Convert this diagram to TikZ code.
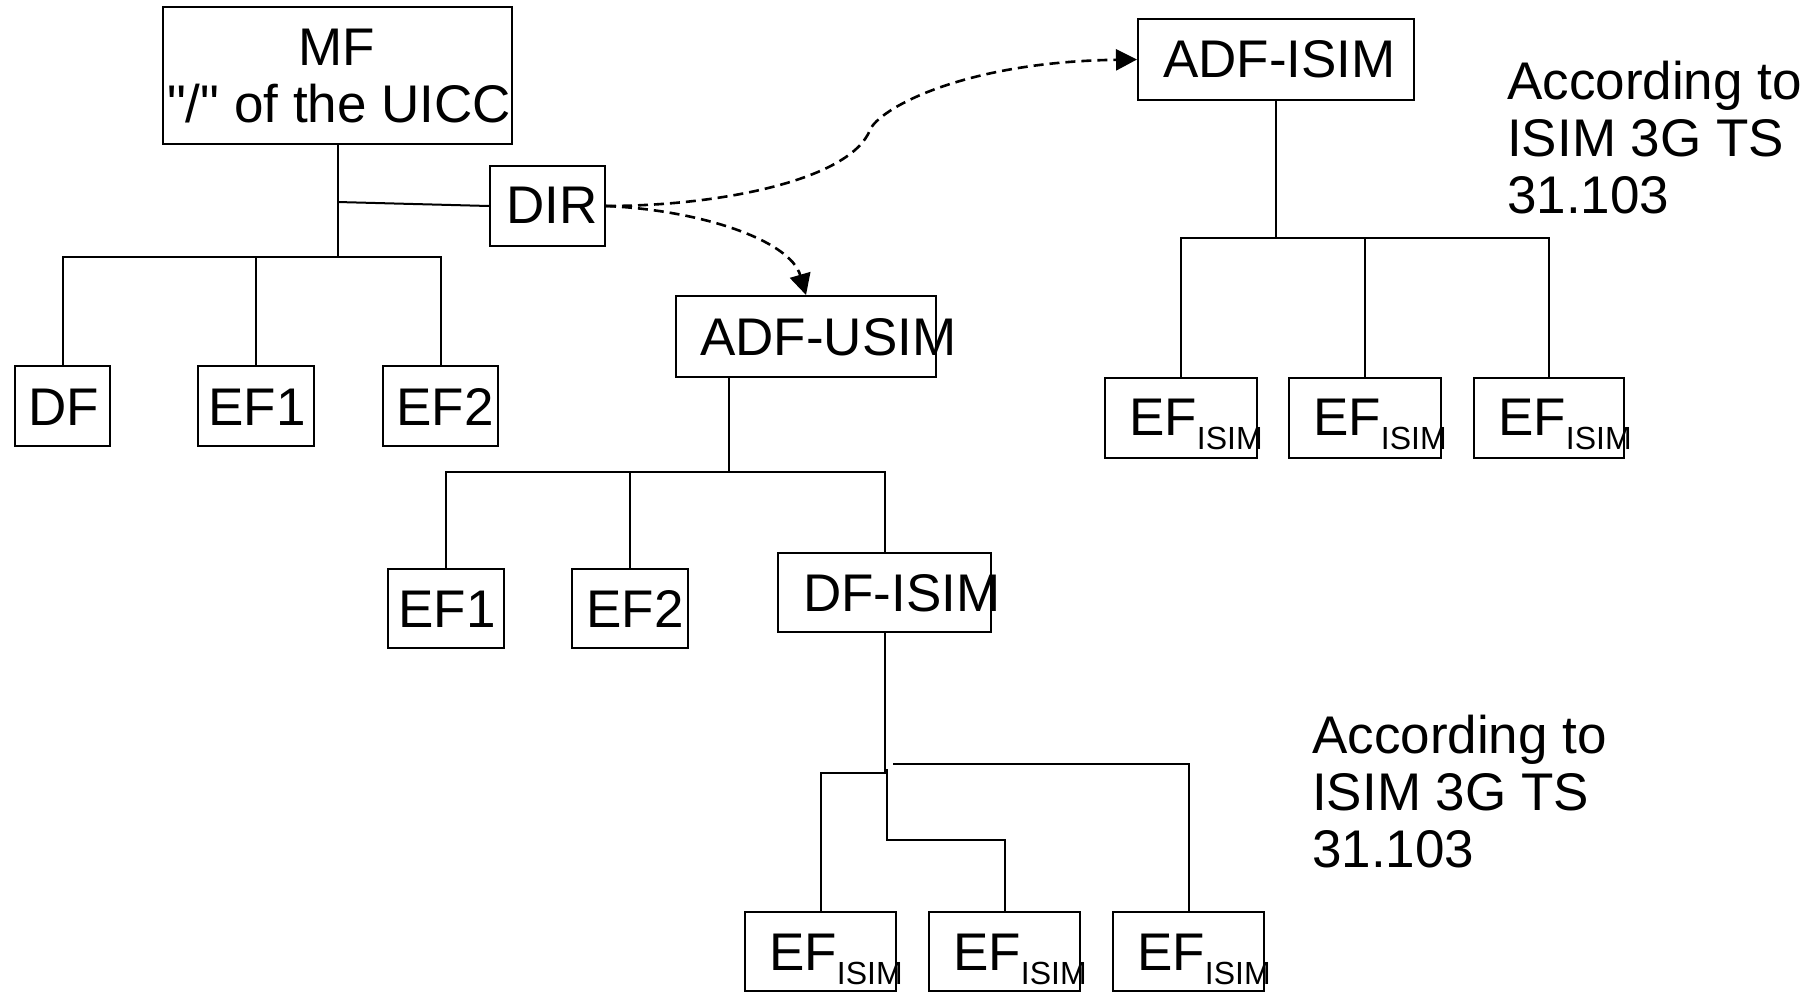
\documentclass[tikz,border=0pt]{standalone}
\usepackage{fontspec}
\setmainfont{Liberation Sans}[Ligatures=TeXOff]
\usetikzlibrary{arrows.meta}
\begin{document}
\begin{tikzpicture}[x=1pt,y=-1pt,
  box/.style={draw, line width=2pt, inner sep=0pt},
  lbl/.style={inner sep=0pt, font=\fontsize{53}{57}\selectfont},
  conn/.style={line width=2pt},
  darr/.style={line width=2.6pt, dash pattern=on 10pt off 6pt, -{Triangle[length=21pt,width=21pt]}}]
\useasboundingbox (0,0) rectangle (1818,993);
\newcommand{\sub}[1]{\raisebox{-14pt}{\fontsize{32}{32}\selectfont #1}}
% boxes
\node[box, minimum width=349pt, minimum height=137pt] (MF)   at (337.5,75.5) {};
\node[box, minimum width=115pt, minimum height=80pt]  (DIR)  at (547.5,206) {};
\node[box, minimum width=95pt,  minimum height=80pt]  (DF)   at (62.5,406) {};
\node[box, minimum width=116pt, minimum height=80pt]  (EFa1) at (256,406) {};
\node[box, minimum width=115pt, minimum height=80pt]  (EFa2) at (440.5,406) {};
\node[box, minimum width=260pt, minimum height=81pt]  (ADFU) at (806,336.5) {};
\node[box, minimum width=116pt, minimum height=79pt]  (EFb1) at (446,608.5) {};
\node[box, minimum width=116pt, minimum height=79pt]  (EFb2) at (630,608.5) {};
\node[box, minimum width=213pt, minimum height=79pt]  (DFI)  at (884.5,592.5) {};
\node[box, minimum width=151pt, minimum height=79pt]  (EFc1) at (820.5,951.5) {};
\node[box, minimum width=151pt, minimum height=79pt]  (EFc2) at (1004.5,951.5) {};
\node[box, minimum width=151pt, minimum height=79pt]  (EFc3) at (1188.5,951.5) {};
\node[box, minimum width=276pt, minimum height=81pt]  (ADFI) at (1276,59.5) {};
\node[box, minimum width=152pt, minimum height=80pt]  (EFd1) at (1181,418) {};
\node[box, minimum width=152pt, minimum height=80pt]  (EFd2) at (1365,418) {};
\node[box, minimum width=150pt, minimum height=80pt]  (EFd3) at (1549,418) {};
% texts
\node[lbl, anchor=base] (tMF1) at (337,65) {MF};
\node[lbl, anchor=base] (tMF2) at (339,122) {"/" of the UICC};
\node[lbl, anchor=base east] (tDIR) at (598,223) {DIR};
\node[lbl, anchor=base east] (tDF) at (99,425) {DF};
\node[lbl, anchor=base east] (tEFa1) at (306,425) {EF1};
\node[lbl, anchor=base east] (tEFa2) at (494,425) {EF2};
\node[lbl, anchor=base west] (tADFU) at (700,355) {ADF-USIM};
\node[lbl, anchor=base east] (tEFb1) at (496,627) {EF1};
\node[lbl, anchor=base east] (tEFb2) at (684,627) {EF2};
\node[lbl, anchor=base west] (tDFI) at (803,611) {DF-ISIM};
\node[lbl, anchor=base west] (tADFI) at (1163,77) {ADF-ISIM};
\node[lbl, anchor=base west] (tEFc1) at (769,970) {EF\sub{ISIM}};
\node[lbl, anchor=base west] (tEFc2) at (953,970) {EF\sub{ISIM}};
\node[lbl, anchor=base west] (tEFc3) at (1137,970) {EF\sub{ISIM}};
\node[lbl, anchor=base west] (tEFd1) at (1129,435) {EF\sub{ISIM}};
\node[lbl, anchor=base west] (tEFd2) at (1313,435) {EF\sub{ISIM}};
\node[lbl, anchor=base west] (tEFd3) at (1498,435) {EF\sub{ISIM}};
\node[lbl, anchor=base west, align=left] (note1) at (1507,213) {According to\\ISIM 3G TS\\31.103};
\node[lbl, anchor=base west, align=left] (note2) at (1312,867) {According to\\ISIM 3G TS\\31.103};
% MF tree
\coordinate (j1) at (337.5,257);
\coordinate (jd) at (337.5,202);
\draw[conn] (MF.south) -- (j1);
\draw[conn] (jd) -- (DIR.west);
\draw[conn] (DF.north) |- (j1);
\draw[conn] (EFa1.north) -- (EFa1.north |- j1);
\draw[conn] (EFa2.north) |- (j1);
% ADF-USIM tree
\coordinate (j2) at (729,472);
\coordinate (j2t) at (729,377);
\draw[conn] (j2t) -- (j2);
\draw[conn] (EFb1.north) |- (j2);
\draw[conn] (EFb2.north) -- (EFb2.north |- j2);
\draw[conn] (DFI.north) |- (j2);
% DF-ISIM tree
\coordinate (j3) at (884.5,773);
\coordinate (m1) at (887,769);
\coordinate (m2) at (1004.5,840);
\coordinate (r1) at (893,764);
\draw[conn] (DFI.south) -- (j3) -| (EFc1.north);
\draw[conn] (m1) |- (m2) -- (EFc2.north);
\draw[conn] (r1) -| (EFc3.north);
% ADF-ISIM tree
\coordinate (j4) at (1276,238);
\draw[conn] (ADFI.south) -- (j4);
\draw[conn] (j4) -| (EFd1.north);
\draw[conn] (EFd2.north) -- (EFd2.north |- j4);
\draw[conn] (j4) -| (EFd3.north);
% dashed arrows
\coordinate (bend) at (870,130);
\draw[darr] (DIR.east) .. controls (700,210) and (790,240) .. (ADFU.north);
\draw[darr] (DIR.east) .. controls (720,206) and (850,180) .. (bend) .. controls (878,110) and (960,62) .. (ADFI.west);
\end{tikzpicture}
\end{document}
